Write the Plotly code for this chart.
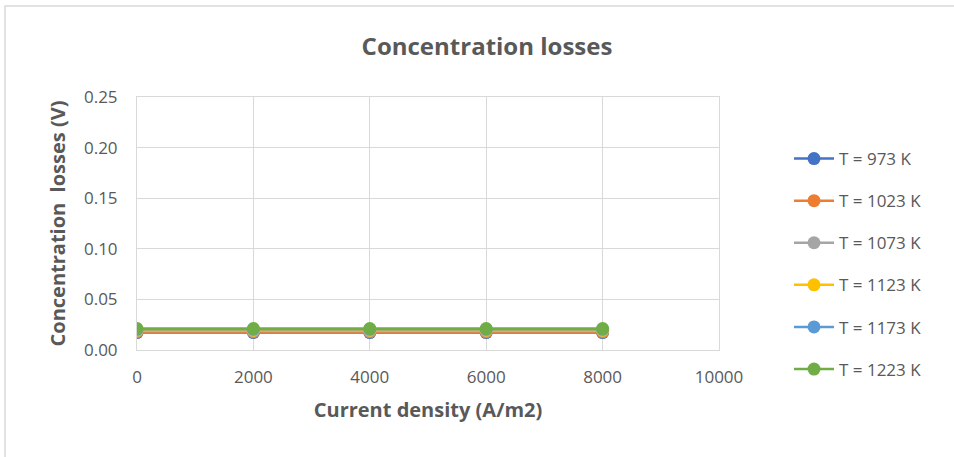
import plotly.graph_objects as go

current_density = [0, 2000, 4000, 6000, 8000]
series_names = ["T = 973 K", "T = 1023 K", "T = 1073 K", "T = 1123 K", "T = 1173 K", "T = 1223 K"]
series_values = [
    [0.0172, 0.0172, 0.0172, 0.0172, 0.0172],
    [0.0180, 0.0180, 0.0180, 0.0180, 0.0180],
    [0.0188, 0.0188, 0.0188, 0.0188, 0.0188],
    [0.0196, 0.0196, 0.0196, 0.0196, 0.0196],
    [0.0204, 0.0204, 0.0204, 0.0204, 0.0204],
    [0.0212, 0.0212, 0.0212, 0.0212, 0.0212],
]
colors = ["#4472C4", "#ED7D31", "#A5A5A5", "#FFC000", "#5B9BD5", "#70AD47"]
x_ticks = [0, 2000, 4000, 6000, 8000, 10000]
y_ticks = [0.0, 0.05, 0.10, 0.15, 0.20, 0.25]

FONT = "Open Sans"
fig = go.Figure()
for i, (name, vals, col) in enumerate(zip(series_names, series_values, colors)):
    fig.add_trace(go.Scatter(
        x=current_density, y=vals, name=name, mode="lines+markers",
        line=dict(color=col, width=2.5),
        marker=dict(color=col, size=13),
        legendgroup=f"g{i}",
    ))

grid = "#d9d9d9"
fig.update_layout(
    width=954, height=457,
    margin=dict(l=137, r=235, t=97, b=107),
    paper_bgcolor="white", plot_bgcolor="white",
    title=dict(text="<b>Concentration losses</b>", x=487 / 954, xanchor="center",
               y=1 - 47 / 457, yanchor="middle",
               font=dict(family=FONT, size=24, color="#595959")),
    font=dict(family=FONT, color="#595959"),
    xaxis=dict(range=[0, 10000], tickvals=x_ticks, ticktext=[str(v) for v in x_ticks],
               showgrid=True, gridcolor=grid, gridwidth=1, zeroline=False,
               showline=True, linecolor=grid, linewidth=1, mirror=True,
               tickfont=dict(family=FONT, size=17, color="#595959"),
               ticklabelstandoff=12,
               title=dict(text="<b>Current density (A/m2)</b>", standoff=15,
                          font=dict(family=FONT, size=20, color="#595959"))),
    yaxis=dict(range=[0, 0.25], tickvals=y_ticks, ticktext=[f"{v:.2f}" for v in y_ticks],
               showgrid=True, gridcolor=grid, gridwidth=1, zeroline=False,
               showline=True, linecolor=grid, linewidth=1, mirror=True,
               tickfont=dict(family=FONT, size=17, color="#595959"),
               ticklabelstandoff=15,
               title=dict(text="<b>Concentration  losses (V)</b>", standoff=12,
                          font=dict(family=FONT, size=20, color="#595959"))),
    legend=dict(x=(789 - 137) / 582, xanchor="left", y=(350 - 141) / 253, yanchor="top",
                font=dict(family=FONT, size=17, color="#595959"),
                tracegroupgap=17, itemwidth=40, bgcolor="rgba(0,0,0,0)"),
    showlegend=True,
)
fig.add_shape(type="rect", xref="paper", yref="paper",
              x0=-132 / 582, x1=1.5, y0=-0.8, y1=1 + 91 / 253,
              line=dict(color="#d9d9d9", width=1.5), fillcolor="rgba(0,0,0,0)", layer="below")

fig.write_html("out.html")
